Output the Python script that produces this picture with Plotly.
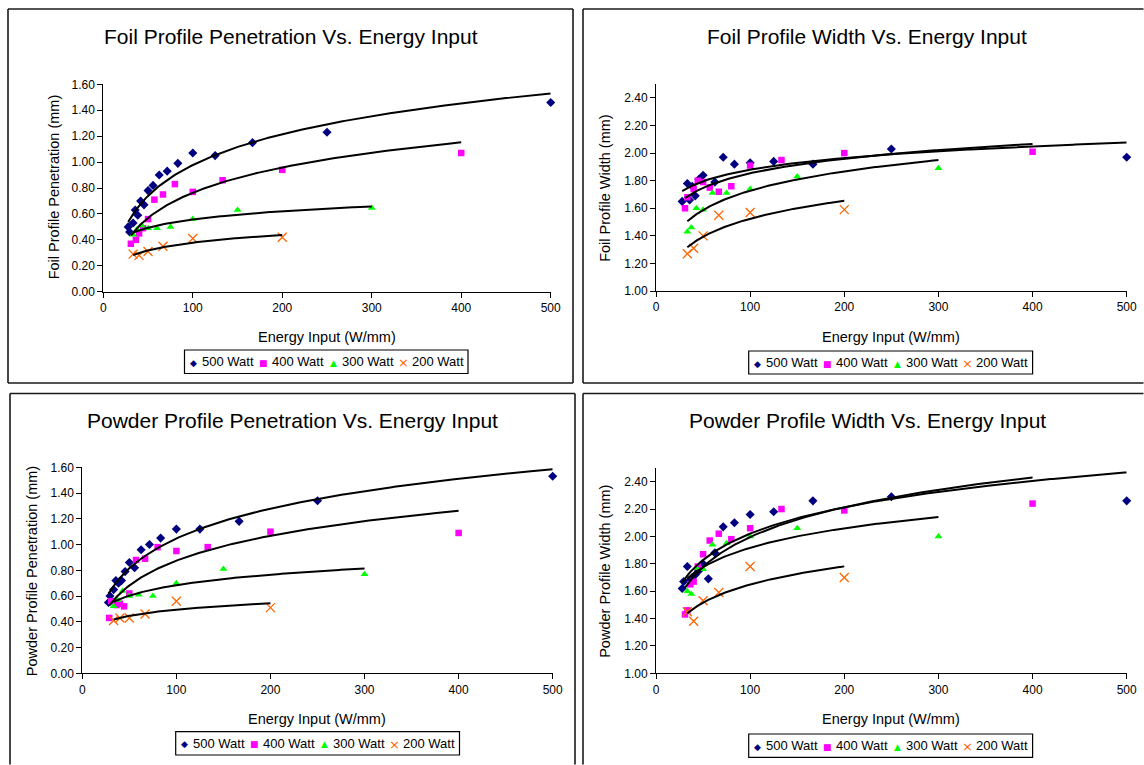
import numpy as np
import plotly.graph_objects as go

# ---------------- data ----------------
SERIES = ["500 Watt", "400 Watt", "300 Watt", "200 Watt"]
X_TICKS = [0, 100, 200, 300, 400, 500]

# Foil Profile Penetration (mm)
FP500_X = [27.8, 29.4, 33.3, 35.7, 38.5, 41.7, 45.5, 50, 55.6, 62.5, 71.4, 83.3, 100, 125, 166.7, 250, 500]
FP500_Y = [0.50, 0.46, 0.53, 0.63, 0.59, 0.70, 0.67, 0.78, 0.82, 0.90, 0.93, 0.99, 1.07, 1.05, 1.15, 1.23, 1.46]
FP400_X = [30.8, 36.4, 40, 44.4, 50, 57.1, 66.7, 80, 100, 133.3, 200, 400]
FP400_Y = [0.37, 0.40, 0.45, 0.49, 0.56, 0.71, 0.75, 0.83, 0.77, 0.86, 0.94, 1.07]
FP300_X = [33.3, 37.5, 42.9, 50, 60, 75, 100, 150, 300]
FP300_Y = [0.44, 0.48, 0.51, 0.49, 0.49, 0.50, 0.56, 0.63, 0.645]
FP200_X = [33.3, 40, 50, 66.7, 100, 200]
FP200_Y = [0.29, 0.28, 0.31, 0.35, 0.41, 0.42]

# Foil Profile Width (mm)
FW500_X = [27.8, 33.3, 35.7, 38.5, 41.7, 45.5, 50, 62.5, 71.4, 83.3, 100, 125, 166.7, 250, 500]
FW500_Y = [1.65, 1.78, 1.66, 1.76, 1.69, 1.81, 1.84, 1.79, 1.97, 1.92, 1.93, 1.94, 1.92, 2.03, 1.97]
FW400_X = [30.8, 33.3, 40, 44.4, 50, 57.1, 66.7, 80, 100, 133.3, 200, 400]
FW400_Y = [1.60, 1.68, 1.74, 1.80, 1.79, 1.75, 1.72, 1.76, 1.91, 1.95, 2.00, 2.01]
FW300_X = [33.3, 37.5, 42.9, 50, 60, 75, 100, 150, 300]
FW300_Y = [1.43, 1.46, 1.60, 1.59, 1.71, 1.71, 1.74, 1.83, 1.89]
FW200_X = [33.3, 40, 50, 66.7, 100, 200]
FW200_Y = [1.27, 1.31, 1.40, 1.55, 1.57, 1.59]

# Powder Profile Penetration (mm)
PP500_X = [27.8, 29.4, 33.3, 35.7, 38.5, 41.7, 45.5, 50, 55.6, 62.5, 71.4, 83.3, 100, 125, 166.7, 250, 500]
PP500_Y = [0.55, 0.60, 0.65, 0.72, 0.70, 0.72, 0.79, 0.86, 0.82, 0.96, 1.00, 1.05, 1.12, 1.12, 1.18, 1.34, 1.53]
PP400_X = [28.6, 30.8, 36.4, 40, 44.4, 50, 57.1, 66.7, 80, 100, 133.3, 200, 400]
PP400_Y = [0.43, 0.56, 0.53, 0.54, 0.52, 0.62, 0.88, 0.89, 0.98, 0.95, 0.98, 1.10, 1.09]
PP300_X = [33.3, 37.5, 42.9, 50, 60, 75, 100, 150, 300]
PP300_Y = [0.52, 0.57, 0.64, 0.60, 0.61, 0.60, 0.70, 0.81, 0.77]
PP200_X = [33.3, 40, 50, 66.7, 100, 200]
PP200_Y = [0.41, 0.43, 0.43, 0.46, 0.56, 0.51]

# Powder Profile Width (mm)
PW500_X = [27.8, 29.4, 33.3, 35.7, 38.5, 41.7, 45.5, 50, 55.6, 62.5, 71.4, 83.3, 100, 125, 166.7, 250, 500]
PW500_Y = [1.62, 1.67, 1.78, 1.68, 1.70, 1.72, 1.75, 1.80, 1.69, 1.88, 2.07, 2.10, 2.16, 2.18, 2.26, 2.29, 2.26]
PW400_X = [30.8, 33.3, 36.4, 40, 44.4, 50, 57.1, 66.7, 80, 100, 133.3, 200, 400]
PW400_Y = [1.43, 1.46, 1.65, 1.67, 1.78, 1.87, 1.97, 2.02, 1.98, 2.06, 2.20, 2.19, 2.24]
PW300_X = [33.3, 37.5, 42.9, 50, 60, 75, 100, 150, 300]
PW300_Y = [1.60, 1.58, 1.77, 1.76, 1.94, 1.95, 2.00, 2.06, 2.00]
PW200_X = [33.3, 40, 50, 66.7, 100, 200]
PW200_Y = [1.45, 1.38, 1.53, 1.59, 1.78, 1.70]

TITLES = ["Foil Profile Penetration Vs. Energy Input", "Foil Profile Width Vs. Energy Input",
          "Powder Profile Penetration Vs. Energy Input", "Powder Profile Width Vs. Energy Input"]
Y_TITLES = ["Foil Profile Penetration (mm)", "Foil Profile Width (mm)",
            "Powder Profile Penetration (mm)", "Powder Profile Width (mm)"]
X_TITLE = "Energy Input (W/mm)"
Y_RANGES = [[0, 1.6], [1.0, 2.5], [0, 1.6], [1.0, 2.5]]

PANEL_DATA = [
    [(FP500_X, FP500_Y), (FP400_X, FP400_Y), (FP300_X, FP300_Y), (FP200_X, FP200_Y)],
    [(FW500_X, FW500_Y), (FW400_X, FW400_Y), (FW300_X, FW300_Y), (FW200_X, FW200_Y)],
    [(PP500_X, PP500_Y), (PP400_X, PP400_Y), (PP300_X, PP300_Y), (PP200_X, PP200_Y)],
    [(PW500_X, PW500_Y), (PW400_X, PW400_Y), (PW300_X, PW300_Y), (PW200_X, PW200_Y)],
]

# ---------------- layout geometry (pixels) ----------------
W, H = 1144, 765
RX, BY = 1143.5, 764.5  # right / bottom limits inside the page
GEOM = [
    dict(plot=(103.3, 550.7, 84.3, 291.7), title=(291.3, 36.7),
         xt=(326.9, 337), yt=(53.6, 186.7), leg=(184.5, 350, 468, 373.5),
         edges=[(8, 9, 573, 9), (8, 383, 573, 383), (8, 9, 8, 383), (573, 9, 573, 383)]),
    dict(plot=(656, 1126.7, 84.2, 291), title=(867.4, 36.7),
         xt=(890.9, 337), yt=(605.5, 188.3), leg=(748.7, 351, 1032.6, 374),
         edges=[(583, 9, RX, 9), (583, 383, RX, 383), (583, 9, 583, 383)]),
    dict(plot=(82.3, 552.7, 467.3, 673.3), title=(292.8, 420.7),
         xt=(317.2, 719), yt=(31.4, 570.8), leg=(175.7, 731.7, 459.5, 755),
         edges=[(10, 393.5, 575, 393.5), (10, 393.5, 10, BY), (575, 393.5, 575, BY)]),
    dict(plot=(656, 1126.7, 468.0, 673.3), title=(867, 420.7),
         xt=(890.9, 719), yt=(605.5, 571.3), leg=(748.7, 734, 1032.6, 757.3),
         edges=[(583, 393.5, RX, 393.5), (583, 393.5, 583, BY)]),
]

FONT = "Arial, 'Liberation Sans', sans-serif"
STYLES = [
    dict(symbol="diamond", size=7, color="#000080", line=dict(width=0)),
    dict(symbol="square", size=6.5, color="#FF00FF", line=dict(width=0)),
    dict(symbol="triangle-up", size=7, color="#00FF00", line=dict(width=0)),
    dict(symbol="x-thin-open", size=9, color="#FF6600", line=dict(width=1.3, color="#FF6600")),
]
LEG_SYMBOLS = [("◆", "#000080", 9), ("■", "#FF00FF", 9), ("▲", "#00FF00", 9), ("×", "#FF6600", 13)]


def px(x):
    return x / W


def py(y):
    return 1 - y / H


def log_fit(xs, ys):
    lx = np.log(np.asarray(xs, dtype=float))
    yy = np.asarray(ys, dtype=float)
    a, b = np.polyfit(lx, yy, 1)
    xx = np.linspace(min(xs), max(xs), 200)
    return xx, a * np.log(xx) + b


fig = go.Figure()
shapes = []
annotations = []
layout_axes = {}

for i in range(4):
    g = GEOM[i]
    sfx = "" if i == 0 else str(i + 1)
    xref, yref = "x" + sfx, "y" + sfx
    x0, x1, yt, yb = g["plot"]
    layout_axes["xaxis" + sfx] = dict(
        domain=[px(x0), px(x1)], range=[0, 500], anchor=yref, tickvals=X_TICKS,
        showline=True, linecolor="black", linewidth=1, ticks="outside", ticklen=5,
        tickcolor="black", showgrid=False, zeroline=False, automargin=False,
        tickfont=dict(family=FONT, size=12, color="black"), fixedrange=True)
    yr = Y_RANGES[i]
    layout_axes["yaxis" + sfx] = dict(
        domain=[py(yb), py(yt)], range=yr, anchor=xref, tick0=yr[0], dtick=0.2,
        tickformat=".2f", showline=True, linecolor="black", linewidth=1,
        ticks="outside", ticklen=5, tickcolor="black", showgrid=False, zeroline=False,
        automargin=False,
        tickfont=dict(family=FONT, size=12, color="black"), fixedrange=True)

    for s, (xs, ys) in enumerate(PANEL_DATA[i]):
        st = STYLES[s]
        fig.add_trace(go.Scatter(
            x=xs, y=ys, mode="markers", name=SERIES[s], showlegend=False,
            xaxis=xref, yaxis=yref, cliponaxis=False,
            marker=dict(symbol=st["symbol"], size=st["size"], color=st["color"], line=st["line"])))
    for s, (xs, ys) in enumerate(PANEL_DATA[i]):
        fx, fy = log_fit(xs, ys)
        fig.add_trace(go.Scatter(
            x=fx, y=fy, mode="lines", name=SERIES[s] + " trend", showlegend=False,
            xaxis=xref, yaxis=yref, line=dict(color="black", width=2)))

    # panel border (only the edges that are visible inside the page)
    for (ex0, ey0, ex1, ey1) in g["edges"]:
        shapes.append(dict(type="line", xref="paper", yref="paper",
                           x0=px(ex0), x1=px(ex1), y0=py(ey0), y1=py(ey1),
                           line=dict(color="#1a1a1a", width=1.6)))
    # titles
    annotations.append(dict(text=TITLES[i], x=px(g["title"][0]), y=py(g["title"][1]),
                            xref="paper", yref="paper", showarrow=False,
                            xanchor="center", yanchor="middle",
                            font=dict(family=FONT, size=21, color="black")))
    annotations.append(dict(text=X_TITLE, x=px(g["xt"][0]), y=py(g["xt"][1]),
                            xref="paper", yref="paper", showarrow=False,
                            xanchor="center", yanchor="middle",
                            font=dict(family=FONT, size=14.5, color="black")))
    annotations.append(dict(text=Y_TITLES[i], x=px(g["yt"][0]), y=py(g["yt"][1]),
                            xref="paper", yref="paper", showarrow=False, textangle=-90,
                            xanchor="center", yanchor="middle",
                            font=dict(family=FONT, size=14.5, color="black")))
    # legend box
    lx0, ly0, lx1, ly1 = g["leg"]
    shapes.append(dict(type="rect", xref="paper", yref="paper",
                       x0=px(lx0), x1=px(lx1), y0=py(ly1), y1=py(ly0),
                       line=dict(color="black", width=1.2), fillcolor="white"))
    lyc = (ly0 + ly1) / 2
    for s in range(4):
        sym, col, fs = LEG_SYMBOLS[s]
        annotations.append(dict(text=sym, x=px(lx0 + 9 + 70 * s), y=py(lyc + 1),
                                xref="paper", yref="paper", showarrow=False,
                                xanchor="center", yanchor="middle",
                                font=dict(family="DejaVu Sans", size=fs, color=col)))
        annotations.append(dict(text=SERIES[s], x=px(lx0 + 15.5 + 70 * s), y=py(lyc),
                                xref="paper", yref="paper", showarrow=False,
                                xanchor="left", yanchor="middle",
                                font=dict(family=FONT, size=13, color="black")))

fig.update_layout(
    width=W, height=H, margin=dict(l=0, r=0, t=0, b=0, pad=0, autoexpand=False),
    paper_bgcolor="white", plot_bgcolor="white", showlegend=False,
    shapes=shapes, annotations=annotations, **layout_axes)

fig.write_html(
    "out.html",
    config={"displayModeBar": False},
    post_script="document.body.style.margin='0';document.body.style.padding='0';")
